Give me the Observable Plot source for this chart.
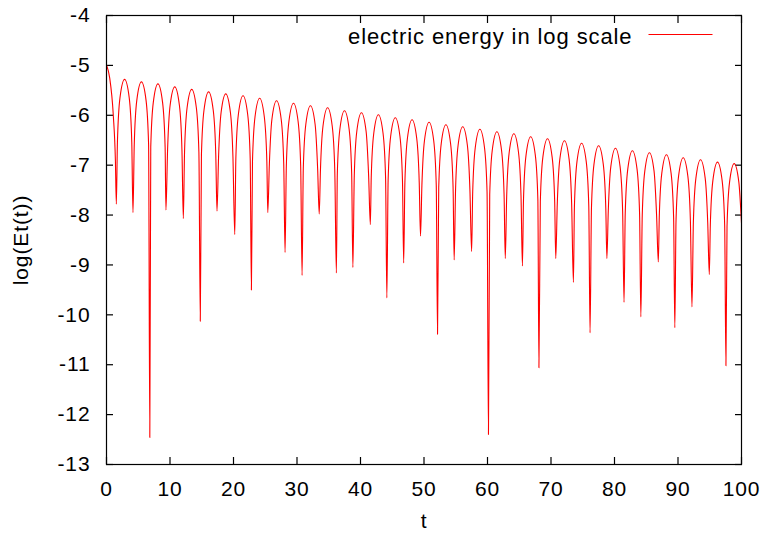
<!DOCTYPE html>
<html>
<head>
<meta charset="utf-8">
<script src="https://cdn.jsdelivr.net/npm/d3@7"></script>
<script src="https://cdn.jsdelivr.net/npm/@observablehq/plot@0.6"></script>
<style>
  body { margin: 0; background: #fff; }
  #chart { width: 767px; height: 537px; }
  #chart svg text { letter-spacing: 0.9px; }
</style>
</head>
<body>
<div id="chart"></div>
<script>
// Tick values
const xTicks = [0, 10, 20, 30, 40, 50, 60, 70, 80, 90, 100];
const yTicks = [-4, -5, -6, -7, -8, -9, -10, -11, -12, -13];

// Series labels
const xLabel = "t";
const yLabel = "log(Et(t))";
const seriesName = "electric energy in log scale";

// Time samples (peaks, shoulders and dips of each oscillation)
const t = [
  0, 0.5, 1.07, 1.4, 1.55, 1.72, 2.12, 2.85, 3.58, 3.98,
  4.17, 4.37, 4.77, 5.5, 6.23, 6.63, 6.82, 6.97, 7.37, 8.1,
  8.83, 9.23, 9.36, 9.62, 10.02, 10.75, 11.48, 11.88, 12.1, 12.29,
  12.69, 13.42, 14.15, 14.55, 14.77, 14.95, 15.35, 16.08, 16.81, 17.21,
  17.4, 17.65, 18.05, 18.78, 19.51, 19.91, 20.2, 20.37, 20.77, 21.5,
  22.23, 22.63, 22.82, 22.99, 23.39, 24.12, 24.85, 25.25, 25.4, 25.65,
  26.05, 26.78, 27.51, 27.91, 28.12, 28.32, 28.72, 29.45, 30.18, 30.58,
  30.8, 30.99, 31.39, 32.12, 32.85, 33.25, 33.5, 33.69, 34.09, 34.82,
  35.55, 35.95, 36.2, 36.35, 36.75, 37.48, 38.21, 38.61, 38.8, 39.02,
  39.42, 40.15, 40.88, 41.28, 41.55, 41.69, 42.09, 42.82, 43.55, 43.95,
  44.15, 44.35, 44.75, 45.48, 46.21, 46.61, 46.8, 46.99, 47.39, 48.12,
  48.85, 49.25, 49.45, 49.67, 50.07, 50.8, 51.53, 51.93, 52.13, 52.32,
  52.72, 53.45, 54.18, 54.58, 54.75, 54.97, 55.37, 56.1, 56.83, 57.23,
  57.5, 57.67, 58.07, 58.8, 59.53, 59.93, 60.15, 60.35, 60.75, 61.48,
  62.21, 62.61, 62.8, 63.02, 63.42, 64.15, 64.88, 65.28, 65.5, 65.67,
  66.07, 66.8, 67.53, 67.93, 68.1, 68.32, 68.72, 69.45, 70.18, 70.58,
  70.75, 70.99, 71.39, 72.12, 72.85, 73.25, 73.53, 73.69, 74.09, 74.82,
  75.55, 75.95, 76.15, 76.37, 76.77, 77.5, 78.23, 78.63, 78.8, 79.02,
  79.42, 80.15, 80.88, 81.28, 81.5, 81.69, 82.09, 82.82, 83.55, 83.95,
  84.15, 84.37, 84.77, 85.5, 86.23, 86.63, 86.9, 87.05, 87.45, 88.18,
  88.91, 89.31, 89.5, 89.69, 90.09, 90.82, 91.55, 91.95, 92.2, 92.42,
  92.82, 93.55, 94.28, 94.68, 94.93, 95.09, 95.49, 96.22, 96.95, 97.35,
  97.55, 97.72, 98.12, 98.85, 99.58, 100
];

// log(Et(t)) values, same order as t
const logE = [
  -4.99, -5.25, -6.0, -6.9, -7.78, -6.54, -5.65, -5.28, -5.65, -6.54,
  -7.95, -6.59, -5.70, -5.33, -5.70, -6.59, -12.46, -6.63, -5.74, -5.37,
  -5.74, -6.63, -7.9, -6.69, -5.80, -5.43, -5.80, -6.69, -8.07, -6.74,
  -5.85, -5.48, -5.85, -6.74, -10.13, -6.79, -5.90, -5.53, -5.90, -6.79,
  -7.92, -6.83, -5.94, -5.57, -5.94, -6.83, -8.39, -6.87, -5.98, -5.61,
  -5.98, -6.87, -9.5, -6.92, -6.03, -5.66, -6.03, -6.92, -7.95, -6.97,
  -6.08, -5.71, -6.08, -6.97, -8.75, -7.02, -6.13, -5.76, -6.13, -7.02,
  -9.21, -7.07, -6.18, -5.81, -6.18, -7.07, -7.98, -7.11, -6.22, -5.85,
  -6.22, -7.11, -9.16, -7.17, -6.28, -5.91, -6.28, -7.17, -9.05, -7.21,
  -6.32, -5.95, -6.32, -7.21, -8.19, -7.25, -6.36, -5.99, -6.36, -7.25,
  -9.66, -7.31, -6.42, -6.05, -6.42, -7.31, -8.96, -7.35, -6.46, -6.09,
  -6.46, -7.35, -8.42, -7.40, -6.51, -6.14, -6.51, -7.40, -10.39, -7.45,
  -6.56, -6.19, -6.56, -7.45, -8.9, -7.49, -6.60, -6.23, -6.60, -7.49,
  -8.73, -7.54, -6.65, -6.28, -6.65, -7.54, -12.4, -7.59, -6.70, -6.33,
  -6.70, -7.59, -8.87, -7.63, -6.74, -6.37, -6.74, -7.63, -9.02, -7.69,
  -6.80, -6.43, -6.80, -7.69, -11.06, -7.73, -6.84, -6.47, -6.84, -7.73,
  -8.87, -7.77, -6.88, -6.51, -6.88, -7.77, -9.35, -7.82, -6.93, -6.56,
  -6.93, -7.82, -10.36, -7.87, -6.98, -6.61, -6.98, -7.87, -8.87, -7.92,
  -7.03, -6.66, -7.03, -7.92, -9.75, -7.97, -7.08, -6.71, -7.08, -7.97,
  -10.04, -8.01, -7.12, -6.75, -7.12, -8.01, -8.94, -8.05, -7.16, -6.79,
  -7.16, -8.05, -10.26, -8.11, -7.22, -6.85, -7.22, -8.11, -9.84, -8.15,
  -7.26, -6.89, -7.26, -8.15, -9.19, -8.20, -7.31, -6.94, -7.31, -8.20,
  -11.02, -8.23, -7.34, -6.97, -7.34, -8.16
];

const data = t.map((d, i) => ({t: d, v: logE[i]}));

// legend swatch: a short horizontal line
const legendSwatch = {
  draw(context) {
    context.moveTo(-32, 0);
    context.lineTo(32, 0);
  }
};

const plain = (d) => String(d);

const chart = Plot.plot({
  width: 767,
  height: 537,
  marginLeft: 106,
  marginRight: 26,
  marginTop: 15,
  marginBottom: 73,
  style: {
    fontFamily: "'Liberation Sans', Arial, Helvetica, sans-serif",
    fontSize: "21px",
    background: "white",
    color: "black"
  },
  x: {domain: [0, 100]},
  y: {domain: [-13, -4]},
  marks: [
    Plot.axisX(xTicks, {anchor: "bottom", tickSize: 0, tickPadding: 17, tickFormat: plain, label: xLabel, labelAnchor: "center", labelOffset: 63, labelArrow: "none"}),
    Plot.axisX(xTicks, {anchor: "bottom", tickSize: 7, dy: -7, text: null, label: null, strokeWidth: 1.2}),
    Plot.axisX(xTicks, {anchor: "top", tickSize: 7, dy: 7, text: null, label: null, strokeWidth: 1.2}),
    Plot.axisY(yTicks, {anchor: "left", tickSize: 0, tickPadding: 16, tickFormat: plain, label: yLabel, labelAnchor: "center", labelOffset: 93, labelArrow: "none"}),
    Plot.axisY(yTicks, {anchor: "left", tickSize: 7, dx: 7, text: null, label: null, strokeWidth: 1.2}),
    Plot.axisY(yTicks, {anchor: "right", tickSize: 7, dx: -7, text: null, label: null, strokeWidth: 1.2}),
    Plot.line(data, {x: "t", y: "v", stroke: "red", strokeWidth: 1.1, curve: "monotone-x"}),
    Plot.frame({stroke: "black", strokeWidth: 1.2}),
    Plot.text([seriesName], {frameAnchor: "top-right", dx: -109, dy: 21, textAnchor: "end", lineAnchor: "middle", fontSize: 22, fill: "black"}),
    Plot.dot([seriesName], {frameAnchor: "top-right", dx: -61, dy: 19, symbol: legendSwatch, stroke: "red", fill: "none", strokeWidth: 1})
  ]
});

document.getElementById("chart").appendChild(chart);
</script>
</body>
</html>
